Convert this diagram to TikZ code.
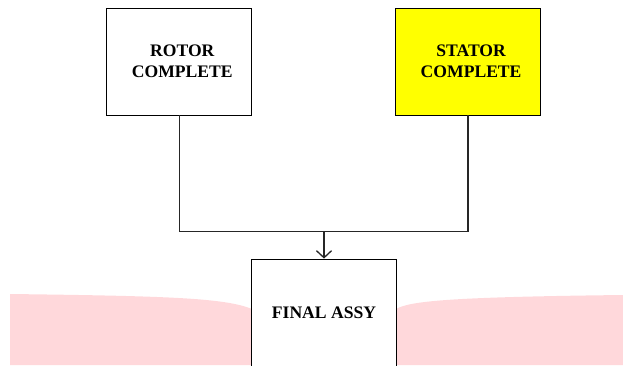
\documentclass[tikz,border=0pt]{standalone}
\usepackage{fontspec}
\setmainfont{Liberation Serif}
\usetikzlibrary{arrows.meta}
\definecolor{pinkbg}{RGB}{255,216,219}
\definecolor{yel}{RGB}{255,255,0}
\tikzset{
  stepbox/.style={draw=black, line width=0.8pt, rectangle, minimum width=145pt, minimum height=107pt,
    inner sep=0pt, align=center, font=\fontsize{17.6}{20.8}\selectfont\bfseries},
  conn/.style={draw=black!85, line width=1.3pt},
  arr/.style={conn, -{Straight Barb[length=7pt,width=15pt,line width=1.3pt]}}
}
\begin{document}
\begin{tikzpicture}[x=1pt,y=-1pt]
\useasboundingbox (0,0) rectangle (623,365);
% pink background shape
\fill[pinkbg] (10,365) -- (10,294) .. controls (170,296) and (225,298) .. (252,309)
  -- (396,309) .. controls (410,301) and (450,297) .. (623,295) -- (623,365) -- cycle;
\node[stepbox, fill=white] (rotor) at (179.3,61.5) {};
\node[stepbox, fill=yel] (stator) at (468.1,61.5) {};
\node[align=center, font=\fontsize{17.6}{20.8}\selectfont\bfseries, inner sep=0pt] (rotortxt) at ([xshift=3pt]rotor.center) {ROTOR\\COMPLETE};
\node[align=center, font=\fontsize{17.6}{20.8}\selectfont\bfseries, inner sep=0pt] (statortxt) at ([xshift=3pt]stator.center) {STATOR\\COMPLETE};
\node[stepbox, fill=white] (final) at (324,312.5) {FINAL ASSY};
\coordinate (j) at (324,231.7);
\draw[conn] (rotor.south) |- (j) -| (stator.south);
\draw[arr] (j) -- (final.north);
\end{tikzpicture}
\end{document}
